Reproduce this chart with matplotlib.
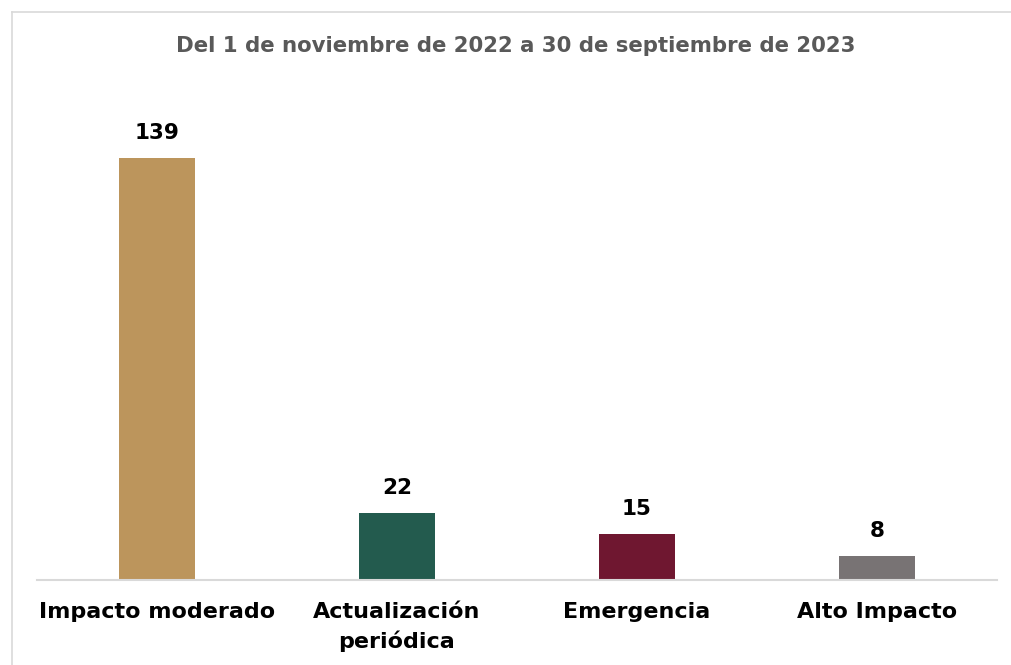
import matplotlib
matplotlib.use("Agg")
import matplotlib.pyplot as plt
from matplotlib.lines import Line2D

categories = ["Impacto moderado", "Actualización\nperiódica", "Emergencia", "Alto Impacto"]
values = [139, 22, 15, 8]
colors = ["#BC955C", "#235B4E", "#6F1730", "#787374"]
subtitle = "Del 1 de noviembre de 2022 a 30 de septiembre de 2023"

plt.rcParams['font.family'] = ['DejaVu Sans']

fig = plt.figure(figsize=(10.11, 6.65), dpi=100)
W, H = 1011, 665
# outer frame (top and left edges visible)
fy = 1 - 12 / H
fx = 12 / W
fig.add_artist(Line2D([fx, 1.0], [fy, fy], transform=fig.transFigure,
                      color="#D9D9D9", linewidth=1.2))
fig.add_artist(Line2D([fx, fx], [0, fy], transform=fig.transFigure,
                      color="#D9D9D9", linewidth=1.2))

ax = fig.add_axes([37 / W, (665 - 580) / H, 960 / W, (580 - 94) / H])
x = range(len(values))
ax.bar(x, values, width=0.317, color=colors, zorder=2)
ax.set_xlim(-0.5, 3.5)
ax.set_ylim(0, 160)
for i, v in enumerate(values):
    ax.text(i, v + 5, str(v), ha="center", va="bottom", fontsize=15.5,
            fontweight="bold", color="#000000")

ax.set_xticks(list(x))
ax.set_xticklabels(categories, fontsize=16, fontweight="bold", color="#000000",
                   linespacing=1.45)
ax.tick_params(axis="x", length=0, pad=16)
ax.set_yticks([])
for s in ["top", "right", "left"]:
    ax.spines[s].set_visible(False)
ax.spines["bottom"].set_color("#D9D9D9")
ax.spines["bottom"].set_linewidth(1.5)

fig.text(516 / W, 1 - 46 / H, subtitle, ha="center", va="center", fontsize=15.3,
         fontweight="bold", color="#595959")

fig.savefig("out.png", dpi=100)
